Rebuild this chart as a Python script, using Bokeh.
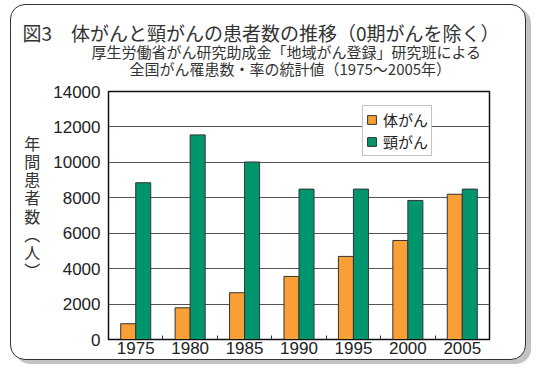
import numpy as np
from bokeh.plotting import figure
from bokeh.models import (ColumnDataSource, FixedTicker, Title, Legend, LegendItem)
from bokeh.transform import dodge
from bokeh.embed import file_html
from bokeh.resources import INLINE

# ---- data ----
years = [1975, 1980, 1985, 1990, 1995, 2000, 2005]
corpus_cancer = [890, 1790, 2640, 3560, 4690, 5590, 8200]      # 体がん
cervical_cancer = [8850, 11550, 10020, 8490, 8490, 7850, 8490]  # 頸がん
series_names = ["体がん", "頸がん"]
y_ticks = [0, 2000, 4000, 6000, 8000, 10000, 12000, 14000]
title_text = "図3　体がんと頸がんの患者数の推移（0期がんを除く）"
subtitle_1 = "厚生労働省がん研究助成金「地域がん登録」研究班による"
subtitle_2 = "全国がん罹患数・率の統計値（1975～2005年）"
y_label = "年間患者数（人）"

ORANGE = "#F8A036"
GREEN = "#00956C"
JP = "Noto Sans CJK JP"
NUM = "Liberation Sans"

src = ColumnDataSource(dict(year=years, corpus=corpus_cancer, cervix=cervical_cancer))

frame_styles = {
    "border": "1.5px solid #333333",
    "border-radius": "15px",
    "box-shadow": "5px 4px 0 0 #c2c2c2",
    "margin-left": "10px",
    "margin-top": "4px",
    "background-color": "white",
}

p = figure(width=516, height=356, x_range=(1972.5, 2007.5), y_range=(0, 14000),
           output_backend="svg", toolbar_location=None,
           min_border_left=97, min_border_right=38, min_border_top=86, min_border_bottom=22,
           styles=frame_styles)
p.background_fill_color = "white"
p.border_fill_color = None
p.outline_line_color = "#111111"
p.outline_line_width = 1.5

bw = 1.38
r1 = p.vbar(x=dodge("year", -bw / 2, range=p.x_range), top="corpus", width=bw, source=src,
            fill_color=ORANGE, line_color="#333333", line_width=1)
r2 = p.vbar(x=dodge("year", bw / 2, range=p.x_range), top="cervix", width=bw, source=src,
            fill_color=GREEN, line_color="#333333", line_width=1)

# grid
p.xgrid.visible = False
p.ygrid.ticker = FixedTicker(ticks=y_ticks)
p.ygrid.grid_line_color = "#555555"
p.ygrid.grid_line_width = 1

# x axis
p.xaxis.ticker = FixedTicker(ticks=years, minor_ticks=[y + 2.5 for y in years[:-1]])
p.xaxis.major_tick_line_color = None
p.xaxis.major_tick_in = 0
p.xaxis.major_tick_out = 0
p.xaxis.minor_tick_in = 4
p.xaxis.minor_tick_out = 0
p.xaxis.minor_tick_line_color = "#333333"
p.xaxis.axis_line_color = "#111111"
p.xaxis.major_label_text_font = NUM
p.xaxis.major_label_text_font_size = "17px"
p.xaxis.major_label_text_color = "#222222"
p.xaxis.major_label_standoff = 2

# y axis
p.yaxis.ticker = FixedTicker(ticks=y_ticks)
p.yaxis.major_tick_line_color = None
p.yaxis.minor_tick_line_color = None
p.yaxis.major_tick_in = 0
p.yaxis.major_tick_out = 0
p.yaxis.axis_line_color = "#111111"
p.yaxis.major_label_text_font = NUM
p.yaxis.major_label_text_font_size = "17px"
p.yaxis.major_label_text_color = "#222222"
p.yaxis.major_label_standoff = 8

# vertical y-axis title (stacked characters, vertical-form parentheses)
vert = y_label.replace("（", "\ufe35").replace("）", "\ufe36")
p.yaxis.axis_label = "\n".join(vert) + "\n"
p.yaxis.axis_label_orientation = "horizontal"
p.yaxis.axis_label_text_font = JP
p.yaxis.axis_label_text_font_size = "16px"
p.yaxis.axis_label_text_font_style = "normal"
p.yaxis.axis_label_text_color = "#333333"
p.yaxis.axis_label_text_line_height = 0.76
p.yaxis.axis_label_standoff = 10

# legend
legend = Legend(items=[LegendItem(label=series_names[0], renderers=[r1]),
                       LegendItem(label=series_names[1], renderers=[r2])],
                location=(254, 183), orientation="vertical",
                label_text_font=JP, label_text_font_size="15px", label_text_color="#222222",
                glyph_width=11, glyph_height=11, label_standoff=6, label_height=18,
                spacing=1, padding=3, margin=0,
                border_line_color="#888888", border_line_width=1,
                background_fill_color="white", background_fill_alpha=1)
p.add_layout(legend)

# titles (first added = closest to the frame)
p.add_layout(Title(text=subtitle_2, align="left", offset=21, standoff=26,
                   text_font=JP, text_font_size="15px", text_font_style="normal",
                   text_color="#333333"), "above")
p.add_layout(Title(text=subtitle_1, align="left", offset=-17, standoff=-38,
                   text_font=JP, text_font_size="15px", text_font_style="normal",
                   text_color="#333333"), "above")
p.add_layout(Title(text=title_text, align="left", offset=-86, standoff=-6,
                   text_font=JP, text_font_size="19px", text_font_style="normal",
                   text_color="#333333"), "above")

open("out.html", "w").write(file_html(p, INLINE))
